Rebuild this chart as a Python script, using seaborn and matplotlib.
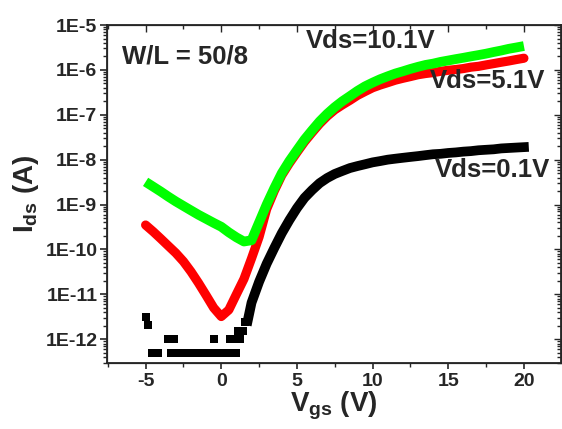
import numpy as np
import pandas as pd
import matplotlib
matplotlib.use("Agg")
import matplotlib.pyplot as plt
from matplotlib.ticker import FixedLocator, NullFormatter, FuncFormatter, MultipleLocator
import seaborn as sns

# gate voltage grid (V)
vg = [-5.0, -4.5, -4.0, -3.5, -3.0, -2.5, -2.0, -1.5, -1.0, -0.5,
      0.0, 0.5, 1.0, 1.5, 2.0, 2.5, 3.0, 3.5, 4.0, 4.5,
      5.0, 5.5, 6.0, 6.5, 7.0, 7.5, 8.0, 8.5, 9.0, 9.5,
      10.0, 10.5, 11.0, 11.5, 12.0, 12.5, 13.0, 13.5, 14.0, 14.5,
      15.0, 15.5, 16.0, 16.5, 17.0, 17.5, 18.0, 18.5, 19.0, 19.5, 20.0]

# Ids (A) for Vds = 10.1 V
ids_10v = [3.2e-9, 2.5e-9, 1.95e-9, 1.5e-9, 1.17e-9, 9.3e-10, 7.4e-10, 5.9e-10, 4.8e-10, 3.9e-10,
           3.2e-10, 2.4e-10, 1.86e-10, 1.5e-10, 1.6e-10, 4.0e-10, 1.0e-9, 2.3e-9, 5.0e-9, 9.3e-9,
           1.62e-8, 2.8e-8, 4.5e-8, 7.1e-8, 1.05e-7, 1.48e-7, 2.0e-7, 2.6e-7, 3.4e-7, 4.3e-7,
           5.2e-7, 6.2e-7, 7.2e-7, 8.3e-7, 9.3e-7, 1.05e-6, 1.17e-6, 1.29e-6, 1.38e-6, 1.51e-6,
           1.62e-6, 1.74e-6, 1.86e-6, 2.0e-6, 2.14e-6, 2.3e-6, 2.5e-6, 2.7e-6, 2.95e-6, 3.16e-6, 3.4e-6]

# Ids (A) for Vds = 5.1 V
ids_5v = [3.5e-10, 2.5e-10, 1.74e-10, 1.2e-10, 8.3e-11, 5.4e-11, 3.2e-11, 1.78e-11, 9.5e-12, 5.0e-12,
          3.2e-12, 4.5e-12, 1.0e-11, 2.2e-11, 6.3e-11, 1.9e-10, 7.9e-10, 2.0e-9, 4.5e-9, 8.3e-9,
          1.45e-8, 2.5e-8, 4.0e-8, 6.3e-8, 9.3e-8, 1.29e-7, 1.66e-7, 2.1e-7, 2.7e-7, 3.3e-7,
          4.0e-7, 4.6e-7, 5.2e-7, 5.9e-7, 6.5e-7, 7.1e-7, 7.8e-7, 8.3e-7, 8.7e-7, 9.3e-7,
          9.8e-7, 1.02e-6, 1.07e-6, 1.15e-6, 1.2e-6, 1.29e-6, 1.38e-6, 1.48e-6, 1.58e-6, 1.7e-6, 1.82e-6]

# Vds = 0.1 V, above the noise floor
vg_01v = [1.75, 2.0, 2.5, 3.0, 3.5, 4.0, 4.5, 5.0, 5.5, 6.0, 6.5, 7.0, 7.5, 8.0, 8.5, 9.0, 9.5,
          10.0, 10.5, 11.0, 11.5, 12.0, 12.5, 13.0, 13.5, 14.0, 14.5, 15.0, 15.5, 16.0, 16.5,
          17.0, 17.5, 18.0, 18.5, 19.0, 19.5, 20.0]
ids_01v = [2.6e-12, 6.5e-12, 1.9e-11, 4.8e-11, 1.07e-10, 2.3e-10, 4.5e-10, 8.3e-10, 1.41e-9, 2.1e-9,
           3.0e-9, 3.9e-9, 4.8e-9, 5.6e-9, 6.5e-9, 7.2e-9, 7.9e-9, 8.7e-9, 9.3e-9, 1.0e-8,
           1.05e-8, 1.1e-8, 1.15e-8, 1.2e-8, 1.26e-8, 1.32e-8, 1.35e-8, 1.41e-8, 1.45e-8, 1.51e-8,
           1.55e-8, 1.62e-8, 1.66e-8, 1.7e-8, 1.78e-8, 1.82e-8, 1.86e-8, 1.9e-8]

# Vds = 0.1 V, noise floor (quantised points)
vg_floor = [-5.0, -4.85, -4.6, -4.4, -4.2, -3.5, -3.3, -3.15,
            -3.35, -3.15, -2.95, -2.75, -2.55, -2.35, -2.15, -1.95, -1.75, -1.55, -1.35, -1.15, -0.95, -0.8,
            -0.5, -0.25, -0.05, 0.15, 0.35, 0.55, 0.75, 0.95,
            0.55, 0.75, 0.95, 1.1, 1.25, 1.1, 1.3, 1.45, 1.6]
ids_floor = [3.2e-12, 2.1e-12, 5e-13, 5e-13, 5e-13, 1e-12, 1e-12, 1e-12,
             5e-13, 5e-13, 5e-13, 5e-13, 5e-13, 5e-13, 5e-13, 5e-13, 5e-13, 5e-13, 5e-13, 5e-13, 5e-13, 5e-13,
             1e-12, 5e-13, 5e-13, 5e-13, 5e-13, 5e-13, 5e-13, 5e-13,
             1e-12, 1e-12, 1e-12, 1e-12, 1e-12, 1.55e-12, 1.55e-12, 1.55e-12, 2.4e-12]

curve_labels = ["Vds=10.1V", "Vds=5.1V", "Vds=0.1V"]
label_x = [5.6, 13.8, 14.1]
label_y = [4.4e-6, 5.7e-7, 5.9e-9]

y_decades = [1e-12, 1e-11, 1e-10, 1e-9, 1e-8, 1e-7, 1e-6, 1e-5]
x_ticks = [-5, 0, 5, 10, 15, 20]
x_minor = [-7.5, -2.5, 2.5, 7.5, 12.5, 17.5, 22.5]

sns.set_style("ticks")
plt.rcParams["font.family"] = ["Liberation Sans", "DejaVu Sans"]
plt.rcParams["font.weight"] = "bold"
plt.rcParams["axes.unicode_minus"] = False
plt.rcParams["mathtext.fontset"] = "custom"
plt.rcParams["mathtext.rm"] = "Liberation Sans:bold"
plt.rcParams["mathtext.bf"] = "Liberation Sans:bold"
plt.rcParams["mathtext.it"] = "Liberation Sans:bold"

fig = plt.figure(figsize=(5.62, 4.29), dpi=100)
ax = fig.add_axes([107 / 562, 1 - 363 / 429, (561 - 107) / 562, (363 - 25) / 429])

df10 = pd.DataFrame({"Vg": vg, "Ids": ids_10v})
df5 = pd.DataFrame({"Vg": vg, "Ids": ids_5v})
df01 = pd.DataFrame({"Vg": vg_01v, "Ids": ids_01v})
dff = pd.DataFrame({"Vg": vg_floor, "Ids": ids_floor})

sns.scatterplot(data=dff, x="Vg", y="Ids", marker="s", s=34, color="black", linewidth=0, ax=ax, zorder=2)
sns.lineplot(data=df01, x="Vg", y="Ids", color="black", linewidth=7, ax=ax, zorder=2,
             solid_capstyle="projecting", solid_joinstyle="round")
sns.lineplot(data=df5, x="Vg", y="Ids", color="#ff0000", linewidth=6.6, ax=ax, zorder=3,
             solid_capstyle="round", solid_joinstyle="round")
sns.lineplot(data=df10, x="Vg", y="Ids", color="#00ff00", linewidth=7, ax=ax, zorder=4,
             solid_capstyle="butt", solid_joinstyle="round")

ax.set_yscale("log")
ax.set_xlim(-7.55, 22.45)
ax.set_ylim(2.95e-13, 1e-5)

# minor log ticks inside the visible range only
y_minor = [m * d for d in [1e-13] + y_decades[:-1] for m in range(2, 10) if 2.95e-13 <= m * d <= 1e-5]

ax.xaxis.set_major_locator(FixedLocator(x_ticks))
ax.xaxis.set_minor_locator(FixedLocator(x_minor))
ax.yaxis.set_major_locator(FixedLocator(y_decades))
ax.yaxis.set_minor_locator(FixedLocator(y_minor))
ax.yaxis.set_minor_formatter(NullFormatter())
ax.yaxis.set_major_formatter(FuncFormatter(lambda v, _: f"1E{int(round(np.log10(v)))}"))

ax.tick_params(axis="both", which="major", labelsize=14, width=1.2, length=5, pad=2, direction="out")
ax.tick_params(axis="both", which="minor", width=1.0, length=3, direction="out")
ax.tick_params(axis="x", which="major", length=4, pad=3)
for s in ax.spines.values():
    s.set_linewidth(1.3)
    s.set_visible(True)

# mirrored ticks pointing inward on the top and right
axr = ax.twinx()
axr.set_yscale("log")
axr.set_ylim(ax.get_ylim())
axr.yaxis.set_major_locator(FixedLocator(y_decades))
axr.yaxis.set_minor_locator(FixedLocator(y_minor))
axr.yaxis.set_major_formatter(NullFormatter())
axr.yaxis.set_minor_formatter(NullFormatter())
axr.tick_params(axis="y", which="both", direction="in", labelright=False, width=1.0)
axr.tick_params(axis="y", which="major", length=5)
axr.tick_params(axis="y", which="minor", length=3)
axt = ax.twiny()
axt.set_xlim(ax.get_xlim())
axt.xaxis.set_major_locator(FixedLocator(x_ticks))
axt.xaxis.set_minor_locator(FixedLocator(x_minor))
axt.xaxis.set_major_formatter(NullFormatter())
axt.tick_params(axis="x", which="both", direction="in", labeltop=False, width=1.0)
axt.tick_params(axis="x", which="major", length=5)
axt.tick_params(axis="x", which="minor", length=3)

ax.set_xlabel(r"$\mathregular{V_{gs}}$ (V)", fontsize=20, fontweight="bold", labelpad=0)
ax.set_ylabel(r"$\mathregular{I_{ds}}$ (A)", fontsize=20, fontweight="bold", labelpad=3)

ax.text(-6.58, 1.94e-6, "W/L = 50/8", fontsize=18.5, fontweight="bold", ha="left", va="center", zorder=6)
for name, tx, ty in zip(curve_labels, label_x, label_y):
    ax.text(tx, ty, name, fontsize=18.5, fontweight="bold", ha="left", va="center", zorder=6)

fig.savefig("out.png", dpi=100)
